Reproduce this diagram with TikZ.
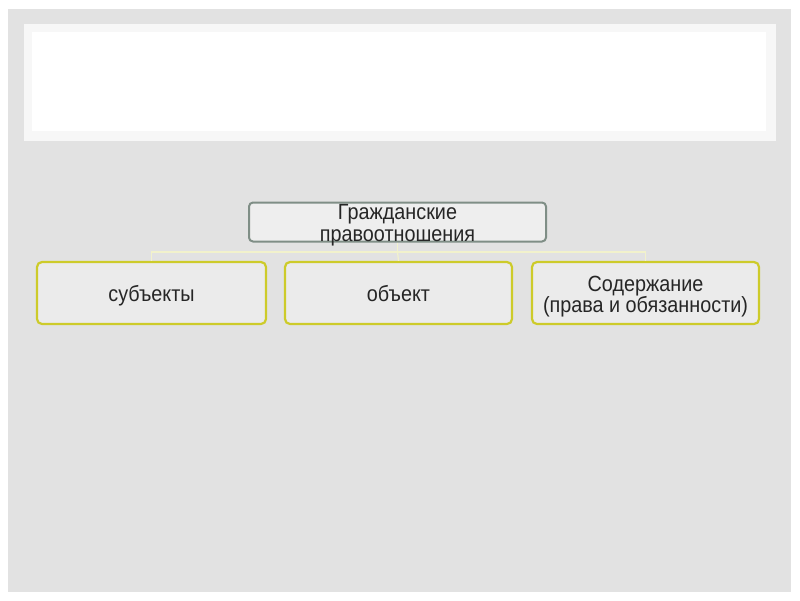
\documentclass[tikz,border=0pt]{standalone}
\usepackage{fontspec}
\setmainfont{Liberation Sans}
\newfontfamily\boxfont[FakeStretch=0.9]{Liberation Sans}
\definecolor{bggray}{HTML}{E2E2E2}
\definecolor{ybord}{HTML}{CDCB2A}
\definecolor{gbord}{HTML}{7F8E86}
\definecolor{conn}{HTML}{F2F2CC}
\definecolor{txt}{HTML}{262626}
\begin{document}
\begin{tikzpicture}[x=1pt,y=-1pt,
  ybox/.style={draw=ybord,line width=2.2pt,rounded corners=5pt,fill=bggray!70!white,inner sep=0pt},
  gbox/.style={draw=gbord,line width=2pt,rounded corners=4pt,fill=bggray!60!white,inner sep=0pt},
  lbl/.style={text=txt,align=center,inner sep=0pt,anchor=base},
  link/.style={draw=conn,line width=1.2pt}]
\useasboundingbox (0,0) rectangle (800,600);
\fill[white] (0,0) rectangle (800,600);
\fill[bggray] (8,9) rectangle (791,592);
\fill[white!97!black] (24,24) rectangle (776,141);
\fill[white] (32,32) rectangle (766,131);
% boxes
\node[gbox,minimum width=297pt,minimum height=39pt] (top) at (397.5,222) {};
\node[ybox,minimum width=229pt,minimum height=62pt] (b1) at (151.5,293) {};
\node[ybox,minimum width=227pt,minimum height=62pt] (b2) at (398.5,293) {};
\node[ybox,minimum width=227pt,minimum height=62pt] (b3) at (645.5,293) {};
% labels
\node[lbl,font=\boxfont\fontsize{22}{22}\selectfont] (toptext) at (397.5,241) {Гражданские\\правоотношения};
\node[lbl,font=\boxfont\fontsize{22}{21}\selectfont] (t1) at (151.5,301.5) {субъекты};
\node[lbl,font=\boxfont\fontsize{22}{21}\selectfont] (t2) at (398.5,301.5) {объект};
\node[lbl,font=\boxfont\fontsize{22}{21}\selectfont] (t3) at (645.5,312) {Содержание\\(права и обязанности)};
% connectors
\coordinate (j) at (397.5,252);
\draw[link] (top.south) -- (j);
\draw[link] (b1.north) |- (j) -| (b3.north);
\draw[link] (j) -- (b2.north);
\end{tikzpicture}
\end{document}
